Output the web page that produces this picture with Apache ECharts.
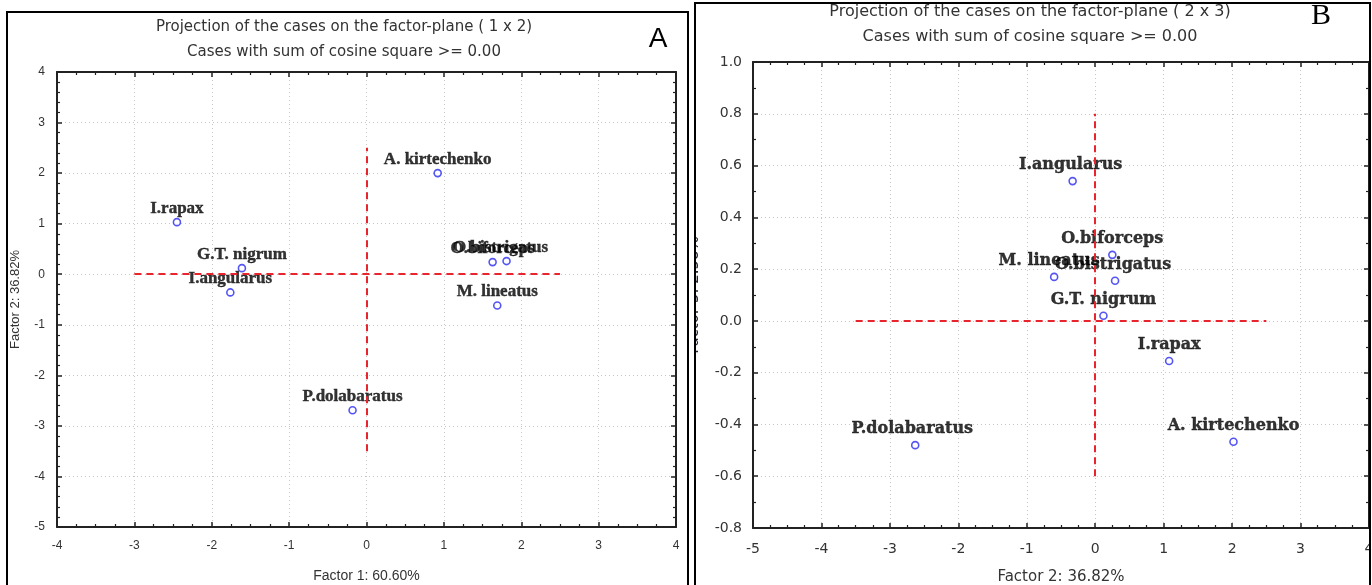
<!DOCTYPE html>
<html><head><meta charset="utf-8">
<script src="https://cdn.jsdelivr.net/npm/echarts@6/dist/echarts.min.js"></script>
<style>
html,body{margin:0;padding:0;background:#fff;width:1372px;height:585px;overflow:hidden;}
.panel{position:absolute;box-sizing:border-box;border:2px solid #000;background:#fff;overflow:hidden;}
#pa{left:6px;top:11px;width:683px;height:600px;}
#pb{left:694px;top:2px;width:677px;height:600px;}
.chart{width:100%;height:100%;}
</style></head>
<body>
<div class="panel" id="pa"><div class="chart" id="ca"></div></div>
<div class="panel" id="pb"><div class="chart" id="cb"></div></div>
<script>
// ---- Panel A data (factor plane 1 x 2) ----
const namesA = ["A. kirtechenko","I.rapax","G.T. nigrum","I.angularus","O.biforceps","O.bistrigatus","M. lineatus","P.dolabaratus"];
const factor1A = [0.92,-2.45,-1.61,-1.76,1.63,1.81,1.69,-0.18];
const factor2A = [2.00,1.03,0.12,-0.36,0.24,0.26,-0.62,-2.69];
const xRangeA = [-4,4], yRangeA = [-5,4];
const crossHA = [[-3,0],[2.5,0]];
const crossVA = [[0,-3.5],[0,2.5]];
const titleA = ["Projection of the cases on the factor-plane ( 1 x 2)","Cases with sum of cosine square >= 0.00"];
const axisNamesA = ["Factor 1: 60.60%","Factor 2: 36.82%"];

// ---- Panel B data (factor plane 2 x 3) ----
const namesB = ["I.angularus","O.biforceps","O.bistrigatus","M. lineatus","G.T. nigrum","I.rapax","A. kirtechenko","P.dolabaratus"];
const factor2B = [-0.33,0.25,0.29,-0.60,0.12,1.08,2.02,-2.63];
const factor3B = [0.54,0.255,0.155,0.17,0.02,-0.155,-0.467,-0.48];
const xRangeB = [-5,4], yRangeB = [-0.8,1.0];
const crossHB = [[-3.5,0],[2.5,0]];
const crossVB = [[0,-0.6],[0,0.8]];
const titleB = ["Projection of the cases on the factor-plane ( 2 x 3)","Cases with sum of cosine square >= 0.00"];
const axisNamesB = ["Factor 2: 36.82%","Factor 3: 2.58%"];

// label horizontal nudges (style only)
const shiftA = {"O.bistrigatus":-6};
const shiftB = {"I.angularus":-2,"O.bistrigatus":-2,"M. lineatus":-5,"P.dolabaratus":-3};

const AXC = '#222';
function axis(range, interval, minorSplit, pos, opts) {
  const main = pos === 'bottom' || pos === 'left';
  return {
    type:'value', min:range[0], max:range[1], interval:interval, position:pos,
    axisLine:{show:true, onZero:false, lineStyle:{color:AXC, width:2}},
    axisTick:{show:true, inside:true, length:5, lineStyle:{color:AXC, width:1.5}},
    minorTick:{show:true, splitNumber:minorSplit, length:3, lineStyle:{color:AXC, width:1.2}},
    splitLine:{show:main, lineStyle:{color:'#c6c6c6', type:[1,3], width:1}},
    axisLabel:Object.assign({show:main, color:'#333'}, opts.label||{}),
    name: main ? opts.name : '', nameLocation:'middle', nameGap:opts.nameGap,
    nameTextStyle:opts.nameStyle
  };
}

function series(names, xs, ys, shift, fontCfg, dist, ch, cv) {
  return {
    type:'scatter', symbol:'circle', symbolSize:7,
    itemStyle:{color:'#ffffff', borderColor:'#2a2af0', borderWidth:1.6},
    label:Object.assign({show:true, position:'top', distance:dist, formatter:'{b}', color:'#000',
      fontWeight:'bold', textBorderColor:'#000', textBorderWidth:0.4}, fontCfg),
    data: names.map((n,i)=>({name:n, value:[xs[i], ys[i]], label:{offset:[shift[n]||0, 0]}})),
    markLine:{silent:true, symbol:'none', animation:false, label:{show:false},
      lineStyle:{color:'#e8242c', type:[7,5], width:2},
      data:[[{coord:ch[0]},{coord:ch[1]}],[{coord:cv[0]},{coord:cv[1]}]]},
    z:3
  };
}

const ca = echarts.init(document.getElementById('ca'), null, {renderer:'canvas'});
ca.setOption({
  animation:false,
  grid:{left:49, top:59, width:619, height:455, outerBoundsMode:'none', containLabel:false},
  xAxis:[
    axis(xRangeA, 1, 4, 'bottom', {name:axisNamesA[0], nameGap:42,
      label:{fontSize:12, fontFamily:'Liberation Sans', margin:13},
      nameStyle:{fontSize:14, fontFamily:'Liberation Sans', color:'#333'}}),
    axis(xRangeA, 1, 4, 'top', {})
  ],
  yAxis:[
    axis(yRangeA, 1, 5, 'left', {name:axisNamesA[1], nameGap:35,
      label:{fontSize:12, fontFamily:'Liberation Sans', margin:12},
      nameStyle:{fontSize:13, fontFamily:'Liberation Sans', color:'#333'}}),
    axis(yRangeA, 1, 5, 'right', {})
  ],
  series:[series(namesA, factor1A, factor2A, shiftA, {fontSize:17, fontFamily:'Liberation Serif'}, 1, crossHA, crossVA)],
  graphic:[
    {type:'text', x:336, y:14, style:{text:titleA[0], align:'center', verticalAlign:'middle', fontSize:15, fontFamily:'DejaVu Sans', fill:'#333'}},
    {type:'text', x:336, y:39, style:{text:titleA[1], align:'center', verticalAlign:'middle', fontSize:15, fontFamily:'DejaVu Sans', fill:'#333'}},
    {type:'text', x:650, y:26, style:{text:'A', align:'center', verticalAlign:'middle', fontSize:28, fontFamily:'Liberation Sans', fill:'#000'}}
  ]
});

const cb = echarts.init(document.getElementById('cb'), null, {renderer:'canvas'});
cb.setOption({
  animation:false,
  grid:{left:57, top:58, right:0, height:466, outerBoundsMode:'none', containLabel:false},
  xAxis:[
    axis(xRangeB, 1, 4, 'bottom', {name:axisNamesB[0], nameGap:42,
      label:{fontSize:14, fontFamily:'DejaVu Sans', margin:14},
      nameStyle:{fontSize:15, fontFamily:'DejaVu Sans', color:'#333'}}),
    axis(xRangeB, 1, 4, 'top', {})
  ],
  yAxis:[
    axis(yRangeB, 0.2, 2, 'left', {name:axisNamesB[1], nameGap:51,
      label:{fontSize:14, fontFamily:'DejaVu Sans', margin:11, formatter:v=>v.toFixed(1)},
      nameStyle:{fontSize:15, fontFamily:'DejaVu Sans', color:'#223'}}),
    axis(yRangeB, 0.2, 2, 'right', {})
  ],
  series:[series(namesB, factor2B, factor3B, shiftB, {fontSize:16, fontFamily:'DejaVu Serif'}, 4, crossHB, crossVB)],
  graphic:[
    {type:'text', x:334, y:8, style:{text:titleB[0], align:'center', verticalAlign:'middle', fontSize:16, fontFamily:'DejaVu Sans', fill:'#333'}},
    {type:'text', x:334, y:33, style:{text:titleB[1], align:'center', verticalAlign:'middle', fontSize:16, fontFamily:'DejaVu Sans', fill:'#333'}},
    {type:'text', x:625, y:12, style:{text:'B', align:'center', verticalAlign:'middle', fontSize:30, fontFamily:'Liberation Serif', fill:'#000'}}
  ]
});
</script>
</body></html>
